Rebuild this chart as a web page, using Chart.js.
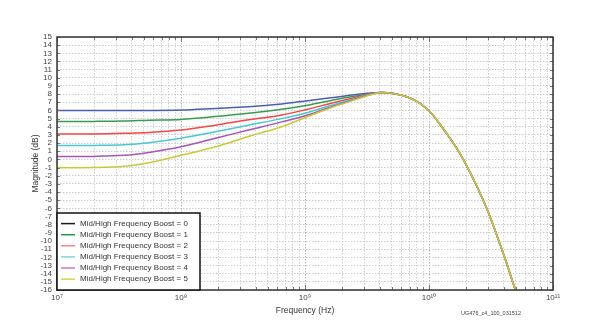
<!DOCTYPE html>
<html>
<head>
<meta charset="utf-8">
<script src="https://cdn.jsdelivr.net/npm/chart.js@4"></script>
<style>
  html, body { margin: 0; padding: 0; background: #fff; }
  #grafico { display: block; }
</style>
</head>
<body>
<canvas id="grafico" width="602" height="322"></canvas>
<script>
// ===============================
// datos: respuesta en frecuencia (dB) por ajuste de boost
// ===============================

// tramo bajo, donde las curvas se separan
const frecuenciasBajas = [1e7, 2e7, 3.5e7, 5.5e7, 1e8, 1.9e8, 3.5e8, 6.5e8, 1.05e9, 1.6e9, 2.4e9, 3.2e9];
const boost0 = [6.0, 6.0, 6.0, 6.0, 6.05, 6.25, 6.45, 6.8, 7.2, 7.55, 7.9, 8.1];
const boost1 = [4.65, 4.66, 4.7, 4.8, 4.9, 5.25, 5.65, 6.15, 6.65, 7.2, 7.7, 8.0];
const boost2 = [3.1, 3.12, 3.2, 3.3, 3.6, 4.2, 4.85, 5.45, 6.15, 6.85, 7.5, 7.95];
const boost3 = [1.7, 1.72, 1.8, 2.05, 2.6, 3.4, 4.2, 5.0, 5.75, 6.6, 7.35, 7.9];
const boost4 = [0.35, 0.37, 0.5, 0.85, 1.55, 2.6, 3.6, 4.6, 5.45, 6.4, 7.25, 7.85];
const boost5 = [-1.0, -1.0, -0.85, -0.4, 0.5, 1.55, 2.8, 4.0, 5.25, 6.3, 7.2, 7.8];

// tramo alto, comun a todas las curvas (caida)
const frecuenciasAltas = [4.1e9, 5.3e9, 6.7e9, 8.4e9, 1.02e10, 1.2e10, 1.4e10, 1.7e10, 2e10, 2.4e10, 2.9e10, 3.3e10, 3.7e10, 4.2e10, 4.8e10, 5e10];
const caida = [8.2, 8.05, 7.65, 6.9, 5.8, 4.5, 3.1, 1.2, -0.7, -3.1, -5.9, -8.1, -10.2, -12.6, -15.3, -16.1];

const etiquetasSerie = [
  "Mid/High Frequency Boost = 0",
  "Mid/High Frequency Boost = 1",
  "Mid/High Frequency Boost = 2",
  "Mid/High Frequency Boost = 3",
  "Mid/High Frequency Boost = 4",
  "Mid/High Frequency Boost = 5"
];
const etiquetasX = ["10⁷", "10⁸", "10⁹", "10¹⁰", "10¹¹"];
const decadas = [7, 8, 9, 10, 11];

// colores de las curvas y de la leyenda
const coloresLinea = ["#4f5eaa", "#3a9a52", "#ee4848", "#4cc6d0", "#a656b4", "#c9c83c"];
const coloresLeyenda = ["#1a1a1a", "#1f9a4e", "#f08a8a", "#86d6d8", "#c878c8", "#d6d24a"];

const frecuencias = frecuenciasBajas.concat(frecuenciasAltas);
const series = [boost0, boost1, boost2, boost3, boost4, boost5];

const datasets = series.map((valores, i) => ({
  label: etiquetasSerie[i],
  data: valores.concat(caida).map((y, k) => ({ x: frecuencias[k], y })),
  borderColor: coloresLinea[i],
  borderWidth: 1.5,
  pointRadius: 0,
  tension: 0.35,
  order: 5 - i
}));

const esDecada = v => {
  const e = Math.log10(v);
  return Math.abs(e - Math.round(e)) < 1e-9;
};

// marco, marcas interiores, leyenda y codigo de figura
const marco = {
  id: "marco",
  afterDatasetsDraw(chart) {
    const { ctx, chartArea: a, scales } = chart;
    ctx.save();

    ctx.strokeStyle = "#777";
    ctx.lineWidth = 1;
    ctx.beginPath();
    scales.x.ticks.forEach(t => {
      const px = Math.round(scales.x.getPixelForValue(t.value)) + 0.5;
      const largo = esDecada(t.value) ? 5 : 3;
      ctx.moveTo(px, a.top); ctx.lineTo(px, a.top + largo);
      ctx.moveTo(px, a.bottom); ctx.lineTo(px, a.bottom - largo);
    });
    scales.y.ticks.forEach(t => {
      const py = Math.round(scales.y.getPixelForValue(t.value)) + 0.5;
      ctx.moveTo(a.left, py); ctx.lineTo(a.left + 3, py);
      ctx.moveTo(a.right, py); ctx.lineTo(a.right - 3, py);
    });
    ctx.stroke();

    ctx.strokeStyle = "#333";
    ctx.lineWidth = 1.5;
    ctx.strokeRect(a.left, a.top, a.right - a.left, a.bottom - a.top);

    // leyenda abajo a la izquierda
    const ancho = 143, alto = 77;
    const lx = a.left, ly = a.bottom - alto;
    ctx.fillStyle = "#fff";
    ctx.fillRect(lx, ly, ancho, alto);
    ctx.strokeStyle = "#111";
    ctx.lineWidth = 1.5;
    ctx.strokeRect(lx, ly, ancho, alto);

    ctx.font = "8px 'Liberation Sans', Arial, sans-serif";
    ctx.textBaseline = "middle";
    ctx.textAlign = "left";
    chart.data.datasets.forEach((ds, i) => {
      const fy = ly + 10.6 + i * 11.1;
      ctx.strokeStyle = coloresLeyenda[i];
      ctx.lineWidth = 1.5;
      ctx.beginPath();
      ctx.moveTo(lx + 4, fy); ctx.lineTo(lx + 18, fy);
      ctx.stroke();
      ctx.fillStyle = "#333";
      ctx.fillText(ds.label, lx + 23, fy);
    });

    ctx.font = "5.5px 'Liberation Sans', Arial, sans-serif";
    ctx.fillStyle = "#444";
    ctx.textAlign = "center";
    ctx.fillText("UG476_c4_100_031512", 491, 313);

    ctx.restore();
  }
};

const fuente = { family: "'Liberation Sans', Arial, sans-serif", size: 8 };

new Chart(document.getElementById("grafico"), {
  type: "line",
  data: { datasets },
  options: {
    responsive: false,
    devicePixelRatio: 1,
    animation: false,
    layout: { padding: { left: 31, right: 49, top: 37, bottom: 0 } },
    plugins: { legend: { display: false }, tooltip: { enabled: false } },
    scales: {
      x: {
        type: "logarithmic",
        min: 1e7,
        max: 1e11,
        afterBuildTicks: scale => {
          const ticks = [];
          decadas.forEach(d => {
            const base = Math.pow(10, d);
            for (let m = 1; m <= (d === 11 ? 1 : 9); m++) ticks.push({ value: m * base });
          });
          scale.ticks = ticks;
        },
        afterFit: scale => { scale.height = 32; },
        grid: {
          color: ctx => (ctx.tick && esDecada(ctx.tick.value) ? "#b4b4b4" : "#d0d0d0"),
          lineWidth: 1,
          drawTicks: false
        },
        border: { display: false, dash: [1.5, 1.5] },
        ticks: {
          autoSkip: false,
          maxRotation: 0,
          padding: 3,
          color: "#444",
          font: fuente,
          callback: value => (esDecada(value) ? etiquetasX[Math.round(Math.log10(value)) - 7] : "")
        },
        title: {
          display: true,
          text: "Frequency (Hz)",
          color: "#333",
          font: { family: fuente.family, size: 8.5 },
          padding: { top: 0, bottom: 6 }
        }
      },
      y: {
        min: -16,
        max: 15,
        afterFit: scale => { scale.width = 26; },
        grid: { color: "#cccccc", lineWidth: 1, drawTicks: false },
        border: { display: false, dash: [1.5, 1.5] },
        ticks: {
          stepSize: 1,
          autoSkip: false,
          padding: 5,
          color: "#444",
          font: fuente
        },
        title: {
          display: true,
          text: "Magnitude (dB)",
          color: "#333",
          font: { family: fuente.family, size: 8.5 },
          padding: 0
        }
      }
    }
  },
  plugins: [marco]
});
</script>
</body>
</html>
